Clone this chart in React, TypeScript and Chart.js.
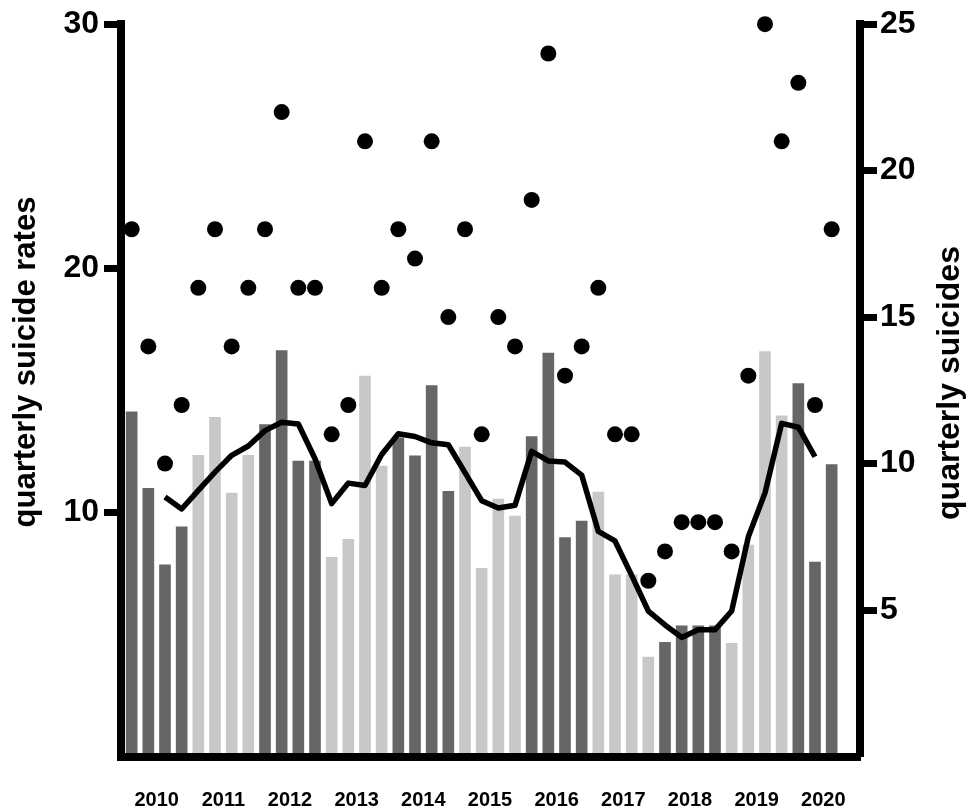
import React, { useEffect, useRef } from 'react';
import { Chart, registerables } from 'chart.js';

Chart.register(...registerables);

// Year labels (quarterly data, 2010 Q1 – 2020 Q3)
const yearLabels = ['2010', '2011', '2012', '2013', '2014', '2015', '2016', '2017', '2018', '2019', '2020'];

// Quarterly suicide rates (bars, left axis)
const rates = [
  14.12, 10.99, 7.85, 9.41,
  12.34, 13.89, 10.79, 12.34,
  13.6, 16.63, 12.1, 12.1,
  8.16, 8.9, 15.58, 11.9,
  13.06, 12.32, 15.2, 10.86,
  12.68, 7.71, 10.55, 9.85,
  13.11, 16.53, 8.97, 9.64,
  10.83, 7.44, 7.44, 4.07,
  4.68, 5.35, 5.35, 5.35,
  4.64, 8.66, 16.59, 13.96,
  15.28, 7.96, 11.96,
];

// Quarterly suicides (dots, right axis)
const suicides = [
  18, 14, 10, 12,
  16, 18, 14, 16,
  18, 22, 16, 16,
  11, 12, 21, 16,
  18, 17, 21, 15,
  18, 11, 15, 14,
  19, 24, 13, 14,
  16, 11, 11, 6,
  7, 8, 8, 8,
  7, 13, 25, 21,
  23, 12, 18,
];

// Moving average of rates (line, left axis)
const movingAverage = [
  null, null, 10.63, 10.14,
  10.9, 11.65, 12.34, 12.72,
  13.35, 13.69, 13.62, 12.2,
  10.36, 11.2, 11.1, 12.37,
  13.22, 13.11, 12.85, 12.77,
  11.63, 10.48, 10.18, 10.29,
  12.5, 12.11, 12.06, 11.53,
  9.22, 8.83, 7.42, 5.96,
  5.39, 4.88, 5.19, 5.19,
  5.96, 9.0, 10.8, 13.65,
  13.49, 12.28, null,
];

const leftTitle = 'quarterly suicide rates';
const rightTitle = 'quarterly suicides';

const FONT = '"Liberation Sans", Arial, Helvetica, sans-serif';
const DARK = '#666666';
const LIGHT = '#c8c8c8';

const titlePlugin = {
  id: 'sideTitles',
  afterDraw(chart: any) {
    const { ctx } = chart;
    ctx.save();
    ctx.font = `bold 31px ${FONT}`;
    ctx.fillStyle = '#000';
    ctx.textAlign = 'center';
    ctx.textBaseline = 'middle';
    ctx.translate(26, 362);
    ctx.rotate(-Math.PI / 2);
    ctx.fillText(leftTitle, 0, 0);
    ctx.restore();

    ctx.save();
    ctx.font = `bold 32px ${FONT}`;
    ctx.fillStyle = '#000';
    ctx.textAlign = 'center';
    ctx.textBaseline = 'middle';
    ctx.translate(950, 383);
    ctx.rotate(-Math.PI / 2);
    ctx.fillText(rightTitle, 0, 0);
    ctx.restore();
  },
};

export default function App() {
  const canvasRef = useRef<HTMLCanvasElement | null>(null);

  useEffect(() => {
    document.body.style.margin = '0';
    const canvas = canvasRef.current;
    if (!canvas) return;

    const barData = rates.map((v, i) => ({ x: i, y: v }));
    const dotData = suicides.map((v, i) => ({ x: i, y: v }));
    const lineData = movingAverage
      .map((v, i) => (v === null ? null : { x: i, y: v }))
      .filter((p) => p !== null);

    const hideZero = (ctx: any) =>
      ctx.tick && ctx.tick.value === 0 ? 'rgba(0,0,0,0)' : '#000';

    const chart = new Chart(canvas, {
      type: 'bar',
      data: {
        datasets: [
          {
            type: 'line',
            data: dotData as any,
            yAxisID: 'y2',
            showLine: false,
            pointRadius: 8,
            pointHoverRadius: 8,
            pointBackgroundColor: '#000',
            pointBorderColor: '#000',
            pointBorderWidth: 0,
            borderColor: '#000',
            backgroundColor: '#000',
            order: 1,
            clip: false as any,
          },
          {
            type: 'line',
            data: lineData as any,
            yAxisID: 'y',
            borderColor: '#000',
            borderWidth: 5.5,
            pointRadius: 0,
            tension: 0,
            fill: false,
            borderJoinStyle: 'round',
            order: 2,
          },
          {
            type: 'bar',
            data: barData as any,
            yAxisID: 'y',
            barThickness: 11,
            borderWidth: 0,
            backgroundColor: (ctx: any) =>
              Math.floor(ctx.dataIndex / 4) % 2 === 0 ? DARK : LIGHT,
            order: 3,
          },
        ] as any,
      },
      options: {
        animation: false,
        responsive: false,
        events: [],
        layout: {
          autoPadding: false,
          padding: { top: 15.5, left: 0, right: 0, bottom: 0 },
        } as any,
        plugins: {
          legend: { display: false },
          tooltip: { enabled: false },
        },
        scales: {
          x: {
            type: 'linear',
            position: 'bottom',
            offset: false,
            min: -0.64,
            max: 43.7,
            grid: { display: true, drawOnChartArea: false, drawTicks: false, offset: false },
            border: { display: true, color: '#000', width: 8, z: 1 } as any,
            ticks: {
              color: '#000',
              font: { family: FONT, size: 20, weight: 'bold' },
              padding: 32,
              autoSkip: false,
              maxRotation: 0,
              callback: (v: any) => {
                const k = Math.round((Number(v) - 1.5) / 4);
                return yearLabels[k] ?? '';
              },
            },
            afterBuildTicks: (scale: any) => {
              scale.ticks = yearLabels.map((_, k) => ({ value: 1.5 + 4 * k }));
            },
            afterFit: (scale: any) => {
              scale.height = 53.5;
            },
          },
          y: {
            type: 'linear',
            position: 'left',
            min: 0,
            max: 30,
            grid: {
              display: true,
              drawOnChartArea: false,
              drawTicks: true,
              tickLength: 17,
              tickWidth: 7,
              tickColor: hideZero,
            },
            border: { display: true, color: '#000', width: 8, z: 1 } as any,
            ticks: {
              stepSize: 10,
              color: '#000',
              padding: 5,
              font: { family: FONT, size: 32, weight: 'bold' },
              callback: (v: any) => (Number(v) === 0 ? '' : String(v)),
            },
            afterFit: (scale: any) => {
              scale.width = 121;
            },
          },
          y2: {
            type: 'linear',
            position: 'right',
            min: 0,
            max: 25,
            grid: {
              display: true,
              drawOnChartArea: false,
              drawTicks: true,
              tickLength: 17,
              tickWidth: 7,
              tickColor: hideZero,
            },
            border: { display: true, color: '#000', width: 8, z: 1 } as any,
            ticks: {
              stepSize: 5,
              color: '#000',
              padding: 3,
              font: { family: FONT, size: 32, weight: 'bold' },
              callback: (v: any) => (Number(v) === 0 ? '' : String(v)),
            },
            afterFit: (scale: any) => {
              scale.width = 115;
            },
          },
        },
      } as any,
      plugins: [titlePlugin],
    });

    return () => {
      chart.destroy();
    };
  }, []);

  return (
    <div style={{ width: 975, height: 810 }}>
      <canvas ref={canvasRef} width={975} height={810} style={{ display: 'block' }} />
    </div>
  );
}
